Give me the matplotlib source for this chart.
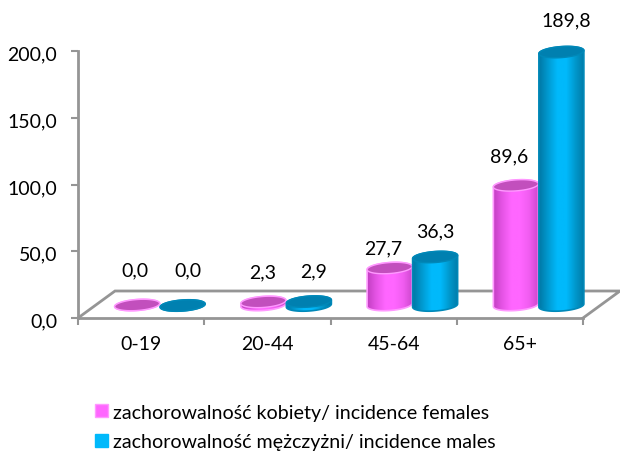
import numpy as np
import matplotlib
matplotlib.use("Agg")
import matplotlib.pyplot as plt
from matplotlib.colors import LinearSegmentedColormap
from matplotlib.patches import Patch, Polygon
from matplotlib.transforms import ScaledTranslation

categories = ["0-19", "20-44", "45-64", "65+"]
females = [0.0, 2.3, 27.7, 89.6]
males = [0.0, 2.9, 36.3, 189.8]
yticks = [0, 50, 100, 150, 200]
legend_labels = ["zachorowalność kobiety/ incidence females",
                 "zachorowalność mężczyżni/ incidence males"]

# label nudges in pixels (dx, dy above the bar top), the original ones are uneven
female_nudge = [(-2, 35), (-1, 30), (-6, 20), (-7, 30)]
male_nudge = [(5, 36), (5, 31), (0, 26), (5, 32)]

plt.rcParams["font.family"] = ["Lato", "DejaVu Sans"]
GRAY = "#959595"
FS = 14

fig = plt.figure(figsize=(6.2, 4.52), dpi=100)
ax = fig.add_axes([78 / 620, (452 - 319) / 452, 505 / 620, 267 / 452])
ax.set_xlim(0, 4)
ax.set_ylim(0, 200)

# pixel to data factors
kx = 4 / 505
ky = 200 / 267

for s in ["top", "right"]:
    ax.spines[s].set_visible(False)
for s in ["left", "bottom"]:
    ax.spines[s].set_color(GRAY)
    ax.spines[s].set_linewidth(2.0)
ax.set_yticks(yticks)
ax.set_yticklabels([f"{v:.1f}".replace(".", ",") for v in yticks], fontsize=FS)
ax.set_xticks(range(5))
ax.set_xticklabels([""] * 5)
ax.tick_params(axis="both", color=GRAY, width=1.5, length=5, pad=10)
# tick labels sit a little under their ticks in the original
down = ScaledTranslation(0, -1.5 / 100, fig.dpi_scale_trans)
for lab in ax.get_yticklabels():
    lab.set_transform(lab.get_transform() + down)
for i, c in enumerate(categories):
    ax.annotate(c, (i + 0.5, 0), xytext=(0, -26), textcoords="offset pixels",
                ha="center", va="center", fontsize=FS, annotation_clip=False)

# floor of the 3d box
fx = [0, 37 * kx, 4 + 37 * kx, 4]
fy = [0, 27 * ky, 27 * ky, 0]
ax.plot(fx, fy, color=GRAY, lw=2.0, clip_on=False, zorder=1, solid_joinstyle="miter")

pink_cmap = LinearSegmentedColormap.from_list(
    "pink", ["#c23fc2", "#e655e6", "#ff66ff", "#ff66ff", "#f05cf0", "#cc47cc"])
blue_cmap = LinearSegmentedColormap.from_list(
    "blue", ["#0079a6", "#009bd2", "#00b9fb", "#00b9fb", "#0098cc", "#0079a6"])
grad = np.linspace(0, 1, 64).reshape(1, -1)


def cylinder(xc, lift, value, cmap, top_color, edge, z):
    a, b, tilt = 22.5, 5.5, 0.07
    base = lift
    top = lift + value
    t1 = np.linspace(np.pi, 2 * np.pi, 40)
    t2 = np.linspace(0, np.pi, 40)
    x_low = xc + a * np.cos(t1) * kx
    y_low = base + (b * np.sin(t1) + tilt * a * np.cos(t1)) * ky
    x_up = xc + a * np.cos(t2) * kx
    y_up = top + (b * np.sin(t2) + tilt * a * np.cos(t2)) * ky
    body = Polygon(np.column_stack([np.r_[x_low, x_up], np.r_[y_low, y_up]]),
                   closed=True, fc="none", ec=edge, lw=1.2, clip_on=False, zorder=z + 0.1)
    ax.add_patch(body)
    im = ax.imshow(grad, cmap=cmap, aspect="auto", zorder=z,
                   extent=[xc - a * kx, xc + a * kx, base - 12 * ky, top + 12 * ky])
    im.set_clip_box(None)
    im.set_clip_path(body)
    tt = np.linspace(0, 2 * np.pi, 80)
    cap = Polygon(np.column_stack([xc + a * np.cos(tt) * kx,
                                   top + (b * np.sin(tt) + tilt * a * np.cos(tt)) * ky]),
                  closed=True, fc=top_color, ec=edge, lw=1.0, clip_on=False, zorder=z + 0.2)
    ax.add_patch(cap)


for i in range(len(categories)):
    xf = i + 0.5 - 4 * kx
    xm = i + 0.5 + 41.5 * kx
    cylinder(xf, 13 * ky, females[i], pink_cmap, "#c24fbd", "#ff99ff", 3 + i)
    cylinder(xm, 12.5 * ky, males[i], blue_cmap, "#0080b0", "#0088b8", 3.5 + i)
    ax.annotate(f"{females[i]:.1f}".replace(".", ","), (xf, females[i] + 13 * ky),
                xytext=female_nudge[i], textcoords="offset pixels", ha="center", va="center",
                fontsize=FS, annotation_clip=False, zorder=20)
    ax.annotate(f"{males[i]:.1f}".replace(".", ","), (xm, males[i] + 12.5 * ky),
                xytext=male_nudge[i], textcoords="offset pixels", ha="center", va="center",
                fontsize=FS, annotation_clip=False, zorder=20)

ax.set_xlim(0, 4)
ax.set_ylim(0, 200)

handles = [Patch(fc="#ff66ff", ec="#ff99ff"), Patch(fc="#00b9fb", ec="#00b9fb")]
fig.legend(handles, legend_labels, loc="center left", bbox_to_anchor=(95 / 620, 1 - 428 / 452),
           frameon=False, fontsize=14.1, handlelength=0.67, handleheight=0.67,
           handletextpad=0.25, labelspacing=0.65, borderpad=0, borderaxespad=0)

fig.savefig("out.png", dpi=100)
